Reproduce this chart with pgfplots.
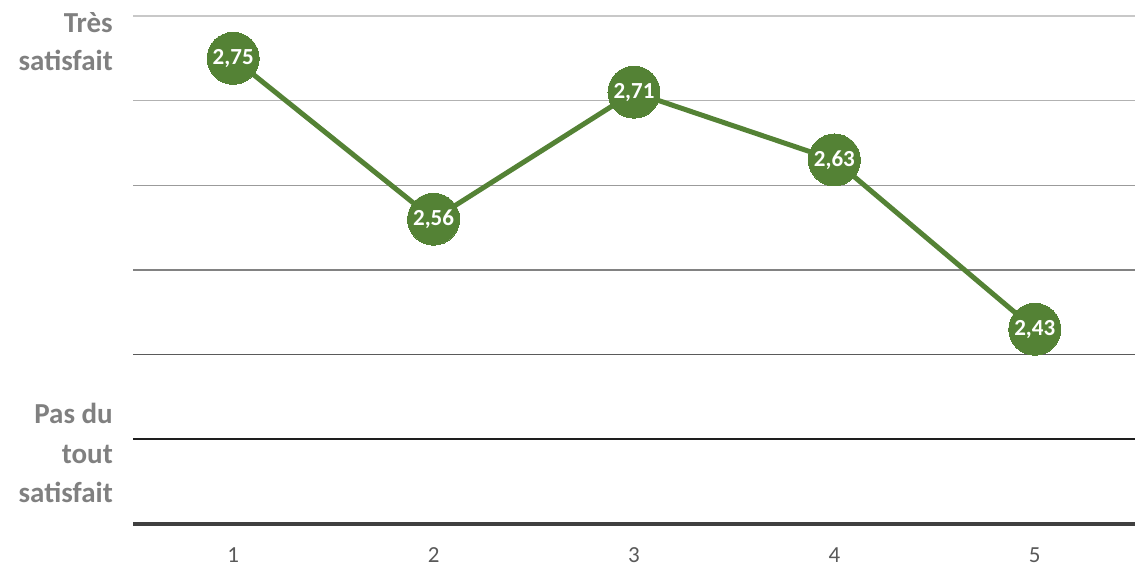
\documentclass[border=0pt]{standalone}
\usepackage{pgfplots}
\pgfplotsset{compat=1.18}
\usepackage{fontspec}
\setmainfont{Carlito}
\definecolor{grn}{RGB}{84,130,53}
\definecolor{lbl}{RGB}{128,128,128}
\definecolor{tickc}{RGB}{89,89,89}
\begin{document}
\begin{tikzpicture}[x=1pt,y=1pt]
\path[use as bounding box] (0,0) rectangle (1135,568);
\begin{axis}[at={(133pt,44pt)}, anchor=south west, scale only axis,
  width=1002pt, height=508pt,
  xmin=0.5, xmax=5.5, ymin=2.2, ymax=2.8,
  axis line style={draw=none},
  ytick=\empty,
  xtick={1,2,3,4,5},
  major tick length=0pt,
  xticklabel style={font=\fontsize{23}{27}\selectfont, text=tickc, anchor=north, yshift=-20pt},
  /pgf/number format/assume math mode=true,
  clip=false]
  \draw[color={rgb,255:red,200;green,200;blue,200}, line width=1.5pt] (axis cs:0.5,2.8) -- (axis cs:5.5,2.8);
  \draw[color={rgb,255:red,178;green,178;blue,178}, line width=1.5pt] (axis cs:0.5,2.7) -- (axis cs:5.5,2.7);
  \draw[color={rgb,255:red,155;green,155;blue,155}, line width=1.5pt] (axis cs:0.5,2.6) -- (axis cs:5.5,2.6);
  \draw[color={rgb,255:red,130;green,130;blue,130}, line width=1.5pt] (axis cs:0.5,2.5) -- (axis cs:5.5,2.5);
  \draw[color={rgb,255:red,90;green,90;blue,90}, line width=1.5pt] (axis cs:0.5,2.4) -- (axis cs:5.5,2.4);
  \draw[color={rgb,255:red,30;green,30;blue,30}, line width=1.8pt] (axis cs:0.5,2.3) -- (axis cs:5.5,2.3);
  \draw[color={rgb,255:red,64;green,64;blue,64}, line width=3.5pt] (axis cs:0.5,2.2) -- (axis cs:5.5,2.2);
  \addplot[color=grn, line width=5pt, mark=*, mark size=26pt,
    mark options={fill=grn, draw=grn, line width=0pt},
    nodes near coords={\pgfmathprintnumber[fixed, precision=2, fixed zerofill, use comma]{\pgfplotspointmeta}},
    every node near coord/.append style={anchor=center, text=white, font=\bfseries\fontsize{23}{27}\selectfont, /pgf/number format/assume math mode=true},
    point meta=explicit]
    coordinates {(1,2.75) [2.75] (2,2.56) [2.56] (3,2.71) [2.71] (4,2.63) [2.63] (5,2.43) [2.43]};
\end{axis}
\begin{scope}[every node/.style={anchor=base east, inner sep=0pt, text=lbl, font=\bfseries\fontsize{29}{35}\selectfont}]
  \node at (113,535) {Très};
  \node at (113,497) {satisfait};
  \node at (113,145) {Pas du};
  \node at (113,105) {tout};
  \node at (113,66) {satisfait};
\end{scope}
\end{tikzpicture}
\end{document}
